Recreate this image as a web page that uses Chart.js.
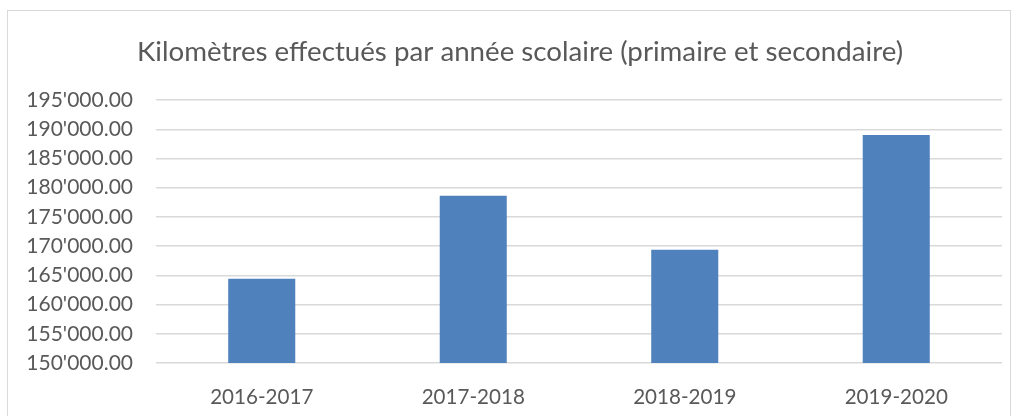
<!DOCTYPE html>
<html>
<head>
<meta charset="utf-8">
<script src="https://cdn.jsdelivr.net/npm/chart.js@4/dist/chart.umd.min.js"></script>
<style>
    html, body { margin: 0; padding: 0; background: #fff; overflow: hidden; }
    #frame { position: absolute; left: 7px; top: 10px; width: 1002px; height: 430px; border: 1.5px solid #d9d9d9; pointer-events: none; }
    #myChart { position: absolute; left: 0; top: 0; }
</style>
</head>
<body>
<canvas id="myChart" width="1017" height="416"></canvas>
<div id="frame"></div>
<script>
const chartTitle = 'Kilomètres effectués par année scolaire (primaire et secondaire)';
const years = ['2016-2017', '2017-2018', '2018-2019', '2019-2020'];
const kilometres = [164400, 178600, 169400, 189000];
const yMin = 150000;
const yMax = 195000;
const yStep = 5000;

function formatKm(value) {
    const parts = Number(value).toFixed(2).split('.');
    parts[0] = parts[0].replace(/\B(?=(\d{3})+(?!\d))/g, "'");
    return parts.join('.');
}

// the title in the original is centred a bit right of the canvas middle
const shiftTitle = {
    id: 'shiftTitle',
    afterLayout(chart) {
        if (chart.titleBlock) chart.titleBlock.left += 38;
    }
};

function drawChart() {
    const textColor = '#595959';
    const ctx = document.getElementById('myChart').getContext('2d');
    new Chart(ctx, {
        type: 'bar',
        data: {
            labels: years,
            datasets: [{
                label: 'Kilomètres',
                data: kilometres,
                backgroundColor: '#4f81bd',
                borderWidth: 0,
                categoryPercentage: 1,
                barPercentage: 0.317
            }]
        },
        options: {
            responsive: false,
            animation: false,
            layout: { padding: { left: 0, right: 15, top: 0, bottom: 0 } },
            plugins: {
                legend: { display: false },
                tooltip: { enabled: false },
                title: {
                    display: true,
                    text: chartTitle,
                    color: textColor,
                    font: { family: 'Lato', size: 27.7, weight: 'normal', lineHeight: 1.2 },
                    padding: { top: 35.4, bottom: 31.4 }
                }
            },
            scales: {
                x: {
                    afterFit: function (scale) { scale.height = 53; },
                    grid: { display: false },
                    border: { display: false },
                    ticks: {
                        color: textColor,
                        padding: 14,
                        font: { family: 'Lato', size: 20.6 }
                    }
                },
                y: {
                    min: yMin,
                    max: yMax,
                    afterFit: function (scale) { scale.width = 156; },
                    grid: { color: '#d9d9d9', lineWidth: 1.5, drawTicks: false },
                    border: { display: false },
                    ticks: {
                        stepSize: yStep,
                        autoSkip: false,
                        color: textColor,
                        padding: 23,
                        font: { family: 'Lato', size: 21 },
                        callback: function (value) { return formatKm(value); }
                    }
                }
            }
        },
        plugins: [shiftTitle]
    });
}

drawChart();
</script>
</body>
</html>
